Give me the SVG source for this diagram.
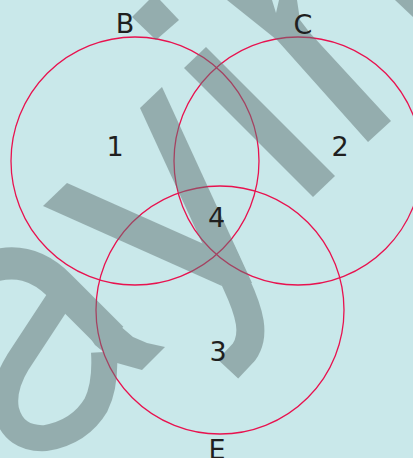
<svg xmlns="http://www.w3.org/2000/svg" width="413" height="458" viewBox="0 0 413 458">
  <style>
    .bg { fill: #c9e8ea; }
    .wm { fill: #617474; }
    .wms { fill: none; stroke: #617474; stroke-linejoin: round; }
    .set { fill: none; stroke: #e8124f; stroke-width: 1.3; }
    .lbl { font-family: "DejaVu Sans", "Liberation Sans", sans-serif; font-size: 27px; fill: #1f1f1f; text-anchor: middle; }
  </style>
  <rect class="bg" x="0" y="0" width="413" height="458"/>

  <g id="circles">
    <g id="set-B"><circle class="set" cx="135" cy="161" r="124"/></g>
    <g id="set-C"><circle class="set" cx="298" cy="161" r="124"/></g>
    <g id="set-E"><circle class="set" cx="220" cy="310" r="124"/></g>
  </g>

  <g id="watermark" opacity="0.5">
    <polygon class="wm" points="132,17 149,0 160,0 179,20 156,40"/>
    <polygon class="wm" points="227,0 272,0 276,13 279,0 297,0 300,20 310,33 391,121 368,142 277,40"/>
    <polygon class="wm" points="395,0 413,0 413,17"/>
    <polygon class="wm" points="184,68 206,47 335,176 313,197"/>
    <polygon class="wm" points="43,206 67,183 215,249 222,286"/>
    <polygon class="wm" points="140,108 162,87 252,283 220.5,283"/>
    <path class="wms" stroke-width="28" d="M221,250 L236,283 C250,313 256,335 244,352 L228,369"/>
    <path class="wms" stroke-width="32" d="M-10,267 C15,259 38,264 60,286 L112,338"/>
    <polygon class="wm" points="98,307 133,337 147,343 165,347 142,370 117,363 95,345 85,330"/>
    <path class="wms" stroke-width="26" d="M60,298 L18,362 Q2,388 6,410 Q14,440 46,438 Q80,432 96,405 Q106,385 104,352"/>
  </g>

  <g id="labels">
    <text class="lbl" x="125" y="33">B</text>
    <text class="lbl" x="303" y="34">C</text>
    <text class="lbl" x="217" y="459">E</text>
    <text class="lbl" x="115" y="156">1</text>
    <text class="lbl" x="340" y="156">2</text>
    <text class="lbl" x="218" y="361">3</text>
    <text class="lbl" x="216.5" y="227">4</text>
  </g>
</svg>
